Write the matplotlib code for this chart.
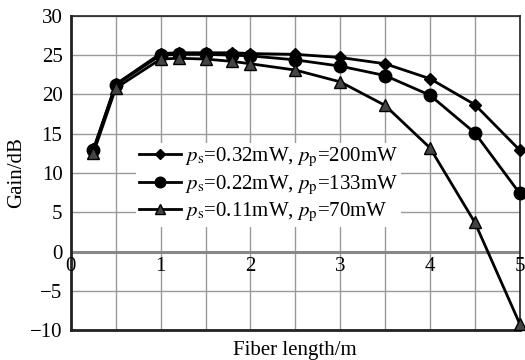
import matplotlib
matplotlib.use("Agg")
import matplotlib.pyplot as plt

plt.rcParams['font.family'] = ['Liberation Serif', 'DejaVu Serif']
plt.rcParams['mathtext.fontset'] = 'stix'

length = [0.25, 0.5, 1.0, 1.2, 1.5, 1.8, 2.0, 2.5, 3.0, 3.5, 4.0, 4.5, 5.0]
gain_032 = [13.0, 21.3, 25.2, 25.3, 25.3, 25.3, 25.2, 25.1, 24.7, 23.9, 22.0, 18.7, 12.9]
gain_022 = [12.9, 21.2, 25.0, 25.1, 25.1, 25.0, 24.9, 24.4, 23.6, 22.4, 19.9, 15.1, 7.4]
gain_011 = [12.5, 20.8, 24.5, 24.6, 24.5, 24.2, 23.9, 23.1, 21.6, 18.6, 13.2, 3.7, -9.2]

labels = [r'$p_{\rm s}$=0.32mW, $p_{\rm p}$=200mW',
          r'$p_{\rm s}$=0.22mW, $p_{\rm p}$=133mW',
          r'$p_{\rm s}$=0.11mW, $p_{\rm p}$=70mW']
xtick_vals = [0, 1, 2, 3, 4, 5]
ytick_vals = [-10, -5, 0, 5, 10, 15, 20, 25, 30]

fig = plt.figure(figsize=(5.25, 3.6), dpi=100)
ax = fig.add_axes([0.135, 0.083, 0.855, 0.873])

ax.set_xlim(0, 5)
ax.set_ylim(-10, 30)
ax.set_xticks([i * 0.5 for i in range(11)])
ax.set_yticks(ytick_vals)
ax.grid(True, color='#999999', lw=1.0)
ax.set_axisbelow(True)
ax.tick_params(axis='x', length=0, labelbottom=False)
ax.tick_params(axis='y', length=0, labelsize=15, pad=6)
ax.axhline(0, color='#888888', lw=2.2, zorder=1.5)

for s in ['left', 'bottom']:
    ax.spines[s].set_linewidth(2.0)
    ax.spines[s].set_color('#222222')
for s in ['top', 'right']:
    ax.spines[s].set_linewidth(1.2)
    ax.spines[s].set_color('#222222')

for v in xtick_vals:
    ax.text(v, -0.7, str(v), ha='center', va='top', fontsize=15)

ax.plot(length, gain_032, color='black', lw=2, marker='D', ms=6, mfc='black', mec='black', label=labels[0], clip_on=False, zorder=3)
ax.plot(length, gain_022, color='black', lw=2, marker='o', ms=9, mfc='black', mec='black', label=labels[1], clip_on=False, zorder=3)
ax.plot(length, gain_011, color='black', lw=2, marker='^', ms=8, mfc='#444444', mec='black', label=labels[2], clip_on=False, zorder=3)

leg = ax.legend(loc='upper left', bbox_to_anchor=(0.145, 0.595), fontsize=15,
                frameon=True, framealpha=1, edgecolor='none', facecolor='white',
                handlelength=2.0, handletextpad=0.2, labelspacing=0.2,
                borderpad=0.15, borderaxespad=0, fancybox=False, markerscale=0.85)

ax.set_ylabel('Gain/dB', fontsize=15, labelpad=3)
fig.text(0.562, 0.0, 'Fiber length/m', ha='center', va='bottom', fontsize=15)

fig.savefig('out.png', dpi=100)
